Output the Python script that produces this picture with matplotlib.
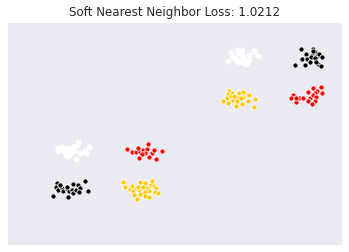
import matplotlib
matplotlib.use("Agg")
import matplotlib.pyplot as plt

# points (x right, y down)
white_a_x = [231, 233, 238, 239, 242, 243, 247, 249, 249, 254, 258, 228, 237, 240, 245, 235, 242]
white_a_y = [53, 57, 50, 53, 55, 58, 62, 60, 55, 51, 56, 61, 61, 62, 64, 58, 50]
black_a_x = [301, 313, 315, 306, 312, 317, 319, 302, 307, 311, 315, 322, 310, 305, 295, 318, 316, 321, 313]
black_a_y = [49, 49, 52, 54, 55, 56, 54, 59, 59, 57, 58, 57, 62, 65, 65, 64, 62, 66, 51]
gold_a_x = [229, 228, 232, 227, 231, 223, 228, 233, 237, 234, 239, 243, 243, 241, 249, 248, 255, 242, 236, 254, 237]
gold_a_y = [91, 94, 93, 98, 96, 101, 103, 100, 97, 96, 93, 92, 97, 98, 95, 101, 99, 104, 106, 107, 101]
red_a_x = [293, 291, 296, 299, 303, 308, 313, 317, 315, 321, 322, 310, 313, 316, 308, 315, 312, 296]
red_a_y = [95, 98, 102, 98, 98, 92, 88, 91, 93, 87, 93, 98, 95, 97, 101, 101, 104, 98]

white_b_x = [58, 58, 62, 63, 65, 67, 70, 73, 74, 77, 78, 80, 85, 86, 89, 70, 76, 67, 73]
white_b_y = [148, 151, 147, 150, 153, 148, 152, 147, 151, 145, 142, 153, 151, 153, 147, 155, 159, 156, 148]
red_b_x = [127, 132, 136, 140, 138, 143, 147, 148, 152, 154, 145, 142, 139, 149, 156, 162]
red_b_y = [149, 152, 152, 152, 148, 150, 149, 144, 153, 150, 153, 154, 158, 157, 159, 151]
black_b_x = [57, 56, 58, 62, 63, 67, 69, 67, 73, 72, 73, 76, 78, 80, 79, 85, 88, 53, 68, 60]
black_b_y = [183, 187, 190, 188, 191, 189, 191, 187, 184, 190, 193, 190, 185, 188, 192, 181, 191, 196, 197, 185]
gold_b_x = [123, 125, 130, 132, 133, 136, 140, 139, 145, 147, 151, 152, 154, 156, 155, 158, 149, 145, 140, 134, 137, 145, 149, 138, 143]
gold_b_y = [182, 187, 189, 186, 191, 188, 182, 190, 183, 188, 185, 181, 186, 188, 192, 193, 191, 192, 194, 195, 199, 196, 197, 187, 187]

groups = [
    (white_a_x, white_a_y, "white"),
    (black_a_x, black_a_y, "black"),
    (gold_a_x, gold_a_y, "#FFC800"),
    (red_a_x, red_a_y, "red"),
    (white_b_x, white_b_y, "white"),
    (red_b_x, red_b_y, "red"),
    (black_b_x, black_b_y, "black"),
    (gold_b_x, gold_b_y, "#FFC800"),
]

fig = plt.figure(figsize=(3.49, 2.52), dpi=100)
ax = fig.add_axes([8 / 349, 7 / 252, 334 / 349, 222 / 252])
ax.set_facecolor("#EAEAF2")

for xs, ys, c in groups:
    ax.scatter(xs, ys, s=14, c=c, edgecolors="white", linewidths=0.6)

ax.set_xlim(8, 342)
ax.set_ylim(245, 23)
ax.set_xticks([])
ax.set_yticks([])
for sp in ax.spines.values():
    sp.set_visible(False)
ax.set_title("Soft Nearest Neighbor Loss: 1.0212", fontsize=8.6, color="#262626", pad=5)

fig.savefig("out.png", dpi=100)
